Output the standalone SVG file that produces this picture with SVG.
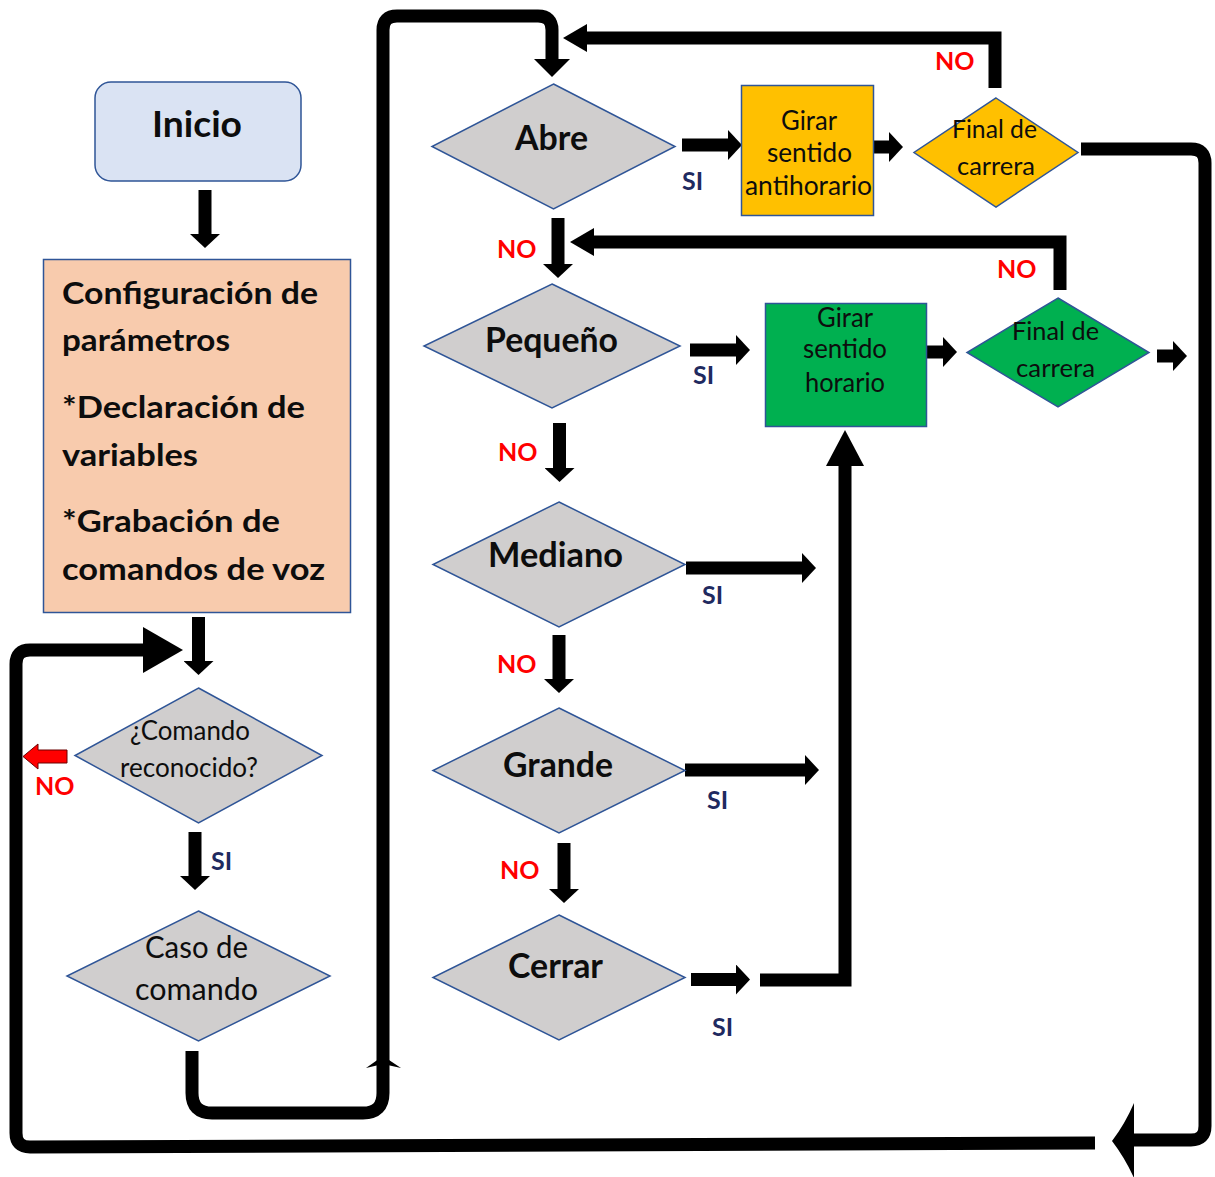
<svg xmlns="http://www.w3.org/2000/svg" width="1215" height="1177" viewBox="0 0 1215 1177">
  <style>
    .dia { fill: #d0cece; stroke: #2f5597; stroke-width: 1.5; }
    .lbl { font-family: Lato, "Open Sans", sans-serif; fill: #0d0d0d; text-anchor: middle; }
    .b { font-weight: bold; }
    .big { font-size: 34px; }
    .mid { font-size: 26px; }
    .fc { font-size: 25px; }
    .no { font-family: Lato, "Open Sans", sans-serif; font-weight: bold; font-size: 25px; fill: #ff0000; }
    .si { font-family: Lato, "Open Sans", sans-serif; font-weight: bold; font-size: 25px; fill: #1f2a60; }
    .ln { fill: none; stroke: #000; stroke-width: 13; stroke-linejoin: miter; }
    .cfg { font-family: Lato, "Open Sans", sans-serif; font-weight: bold; font-size: 30px; fill: #0d0d0d; }
  </style>
  <defs>
    <!-- small block arrowhead: 14 long, 30 wide -->
    <marker id="ah" markerUnits="userSpaceOnUse" viewBox="0 0 14 30" markerWidth="14" markerHeight="30" refX="0" refY="15" orient="auto">
      <path d="M0,0 L14,15 L0,30 Z" fill="#000"/>
    </marker>
    <!-- wider head for the long feedback lines -->
    <marker id="ahw" markerUnits="userSpaceOnUse" viewBox="0 0 24 28" markerWidth="24" markerHeight="28" refX="0" refY="14" orient="auto">
      <path d="M0,0 L24,14 L0,28 Z" fill="#000"/>
    </marker>
    <!-- entry into Abre -->
    <marker id="ahd" markerUnits="userSpaceOnUse" viewBox="0 0 18 36" markerWidth="18" markerHeight="36" refX="0" refY="18" orient="auto">
      <path d="M0,0 L18,18 L0,36 Z" fill="#000"/>
    </marker>
    <!-- large heads -->
    <marker id="ahl" markerUnits="userSpaceOnUse" viewBox="0 0 40 46" markerWidth="40" markerHeight="46" refX="0" refY="23" orient="auto">
      <path d="M0,0 L40,23 L0,46 Z" fill="#000"/>
    </marker>
    <marker id="ahu" markerUnits="userSpaceOnUse" viewBox="0 0 36 38" markerWidth="36" markerHeight="38" refX="0" refY="19" orient="auto">
      <path d="M0,0 L36,19 L0,38 Z" fill="#000"/>
    </marker>
  </defs>

  <rect width="1215" height="1177" fill="#fff"/>

  <!-- connectors -->
  <g id="connectors">
    <!-- main vertical flow -->
    <path class="ln" d="M205,190 L205,234" marker-end="url(#ah)"/>
    <path class="ln" d="M198.5,617 L198.5,661" marker-end="url(#ah)"/>
    <path class="ln" d="M195,832 L195,876" marker-end="url(#ah)"/>
    <!-- Caso de comando to Abre -->
    <path class="ln" stroke-width="12" d="M192,1051 L192,1093 Q192,1113 212,1113 L363,1113 Q383,1113 383,1093 L383,30 Q383,16 397,16 L538,16 Q552,16 552,30 L552,59" marker-end="url(#ahd)"/>
    <path d="M366,1068 L383,1056 L401,1068 L383,1064 Z" fill="#000"/>
    <!-- NO branches -->
    <path class="ln" stroke-width="11" d="M558,218 L558,264" marker-end="url(#ah)"/>
    <path class="ln" stroke-width="11" d="M559.5,423 L559.5,468" marker-end="url(#ah)"/>
    <path class="ln" stroke-width="12" d="M559,635 L559,679" marker-end="url(#ah)"/>
    <path class="ln" stroke-width="12" d="M564,843 L564,889" marker-end="url(#ah)"/>
    <!-- SI branches -->
    <path class="ln" stroke-width="14" d="M682,145 L728,145" marker-end="url(#ah)"/>
    <path class="ln" stroke-width="13" d="M874,147 L889,147" marker-end="url(#ah)"/>
    <path class="ln" stroke-width="14" d="M690,350 L736,350" marker-end="url(#ah)"/>
    <path class="ln" stroke-width="12" d="M927,352 L943,352" marker-end="url(#ah)"/>
    <path class="ln" stroke-width="12" d="M1157,356 L1173,356" marker-end="url(#ah)"/>
    <path class="ln" d="M686,568 L802,568" marker-end="url(#ah)"/>
    <path class="ln" d="M685,770 L805,770" marker-end="url(#ah)"/>
    <path class="ln" stroke-width="15" d="M691,979.5 L736,979.5" marker-end="url(#ah)"/>
    <path class="ln" stroke-width="13" d="M760,980 L845,980 L845,466" marker-end="url(#ahu)"/>
    <!-- limit-switch feedback -->
    <path class="ln" stroke-width="12" d="M995,88 L995,38 L587,38" marker-end="url(#ahw)"/>
    <path class="ln" stroke-width="11" d="M1060,290 L1060,242 L594,242" marker-end="url(#ahw)"/>
    <!-- return loop to command check -->
    <path class="ln" stroke-width="14" d="M1081,149 L1191,149 Q1205,149 1205,163 L1205,1126 Q1205,1140 1191,1140 L1132,1140"/>
    <path d="M1112,1141 Q1125,1124 1134,1103 L1134,1178 Q1125,1158 1112,1141 Z" fill="#000"/>
    <path class="ln" d="M1095,1143 L30,1147 Q16,1147 16,1133 L16,664 Q16,650 30,650 L143,650" marker-end="url(#ahl)"/>
    <!-- not recognised -->
    <path d="M23,756.5 L38,744 L38,750 L67,750 L67,763 L38,763 L38,769 Z" fill="#ff0000" stroke="#6b0000" stroke-width="1"/>
  </g>

  <!-- nodes -->
  <g id="inicio">
    <rect x="95" y="82" width="206" height="99" rx="16" fill="#dae3f3" stroke="#2f5597" stroke-width="1.5"/>
    <text class="lbl b" style="font-size:37px" x="197" y="137" textLength="90" lengthAdjust="spacingAndGlyphs">Inicio</text>
  </g>

  <g id="configuracion">
    <rect x="43.5" y="259.5" width="307" height="353" fill="#f8cbad" stroke="#2f5597" stroke-width="1.5"/>
    <text class="cfg" x="62" y="304" textLength="256" lengthAdjust="spacingAndGlyphs">Configuración de</text>
    <text class="cfg" x="62" y="351" textLength="168" lengthAdjust="spacingAndGlyphs">parámetros</text>
    <text class="cfg" x="62" y="418" textLength="243" lengthAdjust="spacingAndGlyphs">*Declaración de</text>
    <text class="cfg" x="62" y="466" textLength="136" lengthAdjust="spacingAndGlyphs">variables</text>
    <text class="cfg" x="62" y="532" textLength="218" lengthAdjust="spacingAndGlyphs">*Grabación de</text>
    <text class="cfg" x="62" y="580" textLength="263" lengthAdjust="spacingAndGlyphs">comandos de voz</text>
  </g>

  <g id="comando-reconocido">
    <polygon class="dia" points="198.5,688 322,755.5 198.5,823 75,755.5"/>
    <text class="lbl" style="font-size:26px" x="190" y="740" textLength="120" lengthAdjust="spacingAndGlyphs">¿Comando</text>
    <text class="lbl" style="font-size:26px" x="189" y="777" textLength="138" lengthAdjust="spacingAndGlyphs">reconocido?</text>
  </g>

  <g id="caso-comando">
    <polygon class="dia" points="198.5,911 330,976 198.5,1041 67,976"/>
    <text class="lbl" style="font-size:30px" x="196.5" y="958" textLength="103" lengthAdjust="spacingAndGlyphs">Caso de</text>
    <text class="lbl" style="font-size:30px" x="196.5" y="1000" textLength="123" lengthAdjust="spacingAndGlyphs">comando</text>
  </g>

  <g id="abre">
    <polygon class="dia" points="553.5,84 675,146.5 553.5,209 432,146.5"/>
    <text class="lbl b big" x="551.5" y="150" textLength="73" lengthAdjust="spacingAndGlyphs">Abre</text>
  </g>

  <g id="pequeno">
    <polygon class="dia" points="552,284 680,346 552,408 424,346"/>
    <text class="lbl b big" x="551.5" y="352" textLength="133" lengthAdjust="spacingAndGlyphs">Pequeño</text>
  </g>

  <g id="mediano">
    <polygon class="dia" points="559,502 685,564.5 559,627 433,564.5"/>
    <text class="lbl b big" x="555.5" y="567" textLength="135" lengthAdjust="spacingAndGlyphs">Mediano</text>
  </g>

  <g id="grande">
    <polygon class="dia" points="559,708 685,770.5 559,833 433,770.5"/>
    <text class="lbl b big" x="558" y="777" textLength="110" lengthAdjust="spacingAndGlyphs">Grande</text>
  </g>

  <g id="cerrar">
    <polygon class="dia" points="559,915 685,977.5 559,1040 433,977.5"/>
    <text class="lbl b big" x="555.5" y="978" textLength="95" lengthAdjust="spacingAndGlyphs">Cerrar</text>
  </g>

  <g id="giro-antihorario">
    <rect x="741.5" y="85.5" width="132" height="130" fill="#ffc000" stroke="#2f5597" stroke-width="1.5"/>
    <text class="lbl mid" x="809" y="130" textLength="56" lengthAdjust="spacingAndGlyphs">Girar</text>
    <text class="lbl mid" x="809.5" y="162" textLength="85" lengthAdjust="spacingAndGlyphs">sentido</text>
    <text class="lbl mid" x="808.5" y="195" textLength="127" lengthAdjust="spacingAndGlyphs">antihorario</text>
  </g>

  <g id="final-carrera-1">
    <polygon points="996,98 1078,152.5 996,207 914,152.5" fill="#ffc000" stroke="#2f5597" stroke-width="1.5"/>
    <text class="lbl fc" x="994.5" y="138" textLength="85" lengthAdjust="spacingAndGlyphs">Final de</text>
    <text class="lbl fc" x="996" y="175" textLength="78" lengthAdjust="spacingAndGlyphs">carrera</text>
  </g>

  <g id="giro-horario">
    <rect x="765.5" y="303.5" width="161" height="123" fill="#00b050" stroke="#2f5597" stroke-width="1.5"/>
    <text class="lbl mid" x="845" y="327" textLength="56" lengthAdjust="spacingAndGlyphs">Girar</text>
    <text class="lbl mid" x="845" y="358" textLength="84" lengthAdjust="spacingAndGlyphs">sentido</text>
    <text class="lbl mid" x="845" y="392" textLength="80" lengthAdjust="spacingAndGlyphs">horario</text>
  </g>

  <g id="final-carrera-2">
    <polygon points="1058,298 1149,352.5 1058,407 967,352.5" fill="#00b050" stroke="#2f5597" stroke-width="1.5"/>
    <text class="lbl fc" x="1055.5" y="340" textLength="87" lengthAdjust="spacingAndGlyphs">Final de</text>
    <text class="lbl fc" x="1055.5" y="377" textLength="79" lengthAdjust="spacingAndGlyphs">carrera</text>
  </g>

  <!-- branch labels -->
  <g id="labels">
    <text class="no" x="935" y="70">NO</text>
    <text class="no" x="997" y="278">NO</text>
    <text class="no" x="497" y="258">NO</text>
    <text class="no" x="498" y="461">NO</text>
    <text class="no" x="497" y="673">NO</text>
    <text class="no" x="500" y="879">NO</text>
    <text class="no" x="35" y="795">NO</text>
    <text class="si" x="682" y="190">SI</text>
    <text class="si" x="693" y="384">SI</text>
    <text class="si" x="702" y="604">SI</text>
    <text class="si" x="707" y="809">SI</text>
    <text class="si" x="712" y="1036">SI</text>
    <text class="si" x="211" y="870">SI</text>
  </g>
</svg>
